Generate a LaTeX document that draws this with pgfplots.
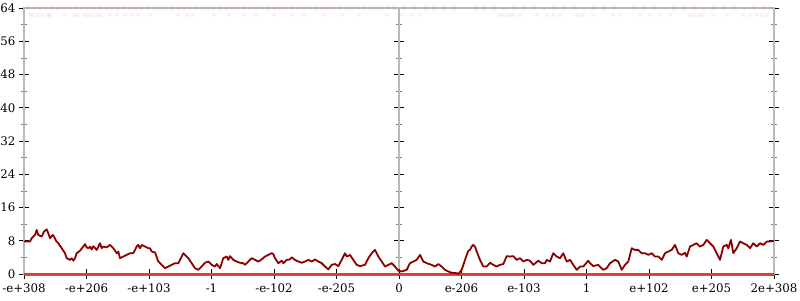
\documentclass[border=0pt]{standalone}
\usepackage{pgfplots}
\pgfplotsset{compat=1.18}
\usepackage{fontspec}
\setmainfont{DejaVu Serif}
\definecolor{dred}{RGB}{140,0,0}
\definecolor{lred}{RGB}{225,40,40}
\definecolor{framec}{RGB}{185,185,185}
\begin{document}
\begin{tikzpicture}
\clip (-24pt,-26pt) rectangle (776pt,274pt);
% middle y axis (x = 0)
\begin{axis}[at={(0,0)},anchor=south west,scale only axis,width=750pt,height=266pt,
  xmin=-375,xmax=375,ymin=0,ymax=64,
  axis x line=none, axis y line=center,
  axis line style={framec,line width=1.2pt,-},
  ytick={0,8,...,64}, minor ytick={4,12,...,60}, yticklabels={},
  tick align=center, major tick length=10pt, minor tick length=6pt,
  major tick style={black,line width=0.8pt}, minor tick style={gray,line width=0.6pt}]
\addplot[draw=none] coordinates {(0,0)};
\end{axis}
\begin{axis}[at={(0,0)},anchor=south west,scale only axis,width=750pt,height=266pt,
  xmin=0,xmax=750,ymin=0,ymax=64,
  axis line style={framec,line width=1.5pt},
  xtick={0,62.5,...,750},
  xticklabels={-e+308,-e+206,-e+103,-1,-e-102,-e-205,0,e-206,e-103,1,e+102,e+205,2e+308},
  ytick={0,8,...,64}, minor ytick={4,12,...,60},
  xtick pos=bottom, ytick pos=both, yticklabel pos=left,
  tick align=center, major tick length=10pt, minor tick length=6pt,
  major tick style={black,line width=0.8pt}, minor tick style={gray,line width=0.6pt},
  /pgf/number format/assume math mode=true,
  tick label style={font=\fontsize{11.8}{13}\selectfont},
  xticklabel style={yshift=-1pt},
  clip=false]
% faint dots at top
\addplot[only marks, mark=*, mark size=2.2pt, color=red, opacity=0.06, draw opacity=0] coordinates {
(6,62.3)(9,62.3)(14,62.3)(18,62.3)(24,62.3)(26,62.3)(41,62.3)(51,62.3)(54,62.3)(61,62.3)(64,62.3)(68,62.3)(73,62.3)(76,62.3)(86,62.3)(93,62.3)(101,62.3)(108,62.3)(114,62.3)(126,62.3)(154,62.3)(163,62.3)(169,62.3)
(190,62.3)(205,62.3)(220,62.3)(232,62.3)(250,62.3)(268,62.3)(280,62.3)(300,62.3)(318,62.3)(335,62.3)(363,62.3)(378,62.3)(388,62.3)(396,62.3)
(476,62.3)(480,62.3)(485,62.3)(489,62.3)(496,62.3)(513,62.3)(523,62.3)(529,62.3)(536,62.3)(553,62.3)(559,62.3)(569,62.3)(589,62.3)(596,62.3)(616,62.3)(626,62.3)(636,62.3)(646,62.3)(666,62.3)(670,62.3)(675,62.3)(679,62.3)(689,62.3)(703,62.3)(719,62.3)(726,62.3)(733,62.3)(738,62.3)(743,62.3)
};
\addplot[only marks, mark=*, mark size=2.2pt, color=red, opacity=0.06, draw opacity=0] coordinates {
(4,64)(10,64)(16,64)(22,64)(28,64)(34,64)(40,64)(46,64)(52,64)(58,64)(64,64)(70,64)(76,64)(82,64)(88,64)(94,64)(100,64)(106,64)(112,64)(118,64)(124,64)(130,64)(136,64)(142,64)(148,64)(154,64)(160,64)(166,64)(172,64)(178,64)(184,64)(190,64)(196,64)(202,64)(208,64)(214,64)(220,64)(226,64)(232,64)(238,64)(244,64)(250,64)(256,64)(262,64)(268,64)(274,64)(280,64)(286,64)(292,64)(298,64)(304,64)(310,64)(316,64)(322,64)(328,64)(334,64)(340,64)(346,64)(352,64)(358,64)(364,64)(370,64)
(380,64)(390,64)(402,64)(410,64)(420,64)(430,64)(440,64)(452,64)(460,64)(470,64)(480,64)(490,64)(500,64)(510,64)(520,64)(530,64)(540,64)(550,64)(560,64)(570,64)(580,64)(590,64)(600,64)(610,64)(620,64)(630,64)(640,64)(650,64)(660,64)(670,64)(680,64)(690,64)(700,64)(710,64)(720,64)(730,64)(740,64)(746,64)
};
% zero series
\addplot[lred, opacity=0.85, line width=3pt] coordinates {(0,0)(750,0)};
% main series
\addplot[dred, line width=1.8pt, line join=round] coordinates {
(0,7.8)(6.0,7.8)(7.7,8.6)(11,9.4)(12.7,10.6)(14.3,9.4)(17.7,9.0)(20,10.2)(22.7,10.75)(24.3,9.8)(26,8.6)(28.7,9.4)(30,9.0)(32,8.0)(34.3,7.4)(37.7,6.2)(41,5.0)(42.7,3.8)(46,3.4)(47.7,3.8)(49.3,3.2)(51,3.8)(52.7,5.0)(56,5.6)(59.3,6.6)(61,7.2)(62.7,6.4)(64.3,6.2)(66,6.6)(67.7,5.9)(69.3,6.7)(72.7,5.8)(76,7.4)(77.7,6.2)(79.3,6.6)(82.7,6.4)(86,7.0)(89.3,6.2)(92.7,5.0)(94.3,5.4)(96,3.8)(99.3,4.2)(102.7,4.6)(106,5.0)(109.3,5.0)(111,5.8)(112.7,6.6)(114.3,7.0)(116,6.2)(117.7,7.0)(121,6.6)(124.3,6.2)(126,6.2)
(127.7,5.4)(131,5.2)(134.3,3.0)(137.7,2.2)(141,1.4)(144.3,1.8)(147.7,2.2)(151,2.6)(154.3,2.6)(156,3.4)(157.7,4.2)(159.3,5.0)(162.7,4.2)(164.3,3.8)(167.7,2.6)(171,1.4)(174.3,1.0)(177.7,1.8)(181,2.7)(184.3,3.0)(187.7,2.2)(191,1.8)(192.7,2.4)(196,1.4)(199.3,3.8)(202.7,4.2)(204.3,3.4)(206,4.3)(209.3,3.4)(212.7,3.0)(216,2.7)(219.3,2.6)(221,2.2)(224.3,3.0)(227.7,3.8)(231,3.4)(234.3,3.0)(237.7,3.5)(241,4.2)(244.3,4.6)(247.7,5.0)(249.3,4.8)
(251,3.8)(254.3,2.6)(257.7,3.2)(259.3,2.6)(262.7,3.4)(266,3.5)(267.7,4.0)(271,3.4)(274.3,3.0)(277.7,2.7)(281,3.0)(284.3,3.4)(287.7,3.0)(291,3.5)(294.3,3.0)(297.7,2.6)(301,1.8)(304.3,1.1)(307.7,2.2)(311,2.4)(314.3,1.9)(317.7,3.4)(321,5.0)(322.7,4.2)(326,4.6)(329.3,3.4)(332.7,2.2)(336,1.9)(341,2.2)(344.3,3.8)(347.7,5.0)(351,5.8)(352.7,5.0)(354.3,4.2)(357.7,3.0)(361,1.8)(364.3,2.2)(367.7,2.6)(371,1.8)(374.3,0.8)
(377.7,0.6)(382.7,1.0)(386,2.6)(389.3,3.0)(392.7,3.4)(396,4.6)(399.3,3.0)(402.7,2.6)(407.7,2.2)(411,1.8)(414.3,2.4)(417.7,1.8)(421,1.0)(424.3,0.6)(427.7,0.3)(432.7,0.2)(434.3,0.0)(437.7,1.0)(441,3.4)(444.3,5.6)(446,5.8)(447.7,6.6)(449.3,7.0)(451,6.6)(452.7,5.4)(456,3.4)(459.3,1.8)(462.7,1.8)(466,2.7)(469.3,2.2)(472.7,1.8)(476,2.2)(479.3,2.4)(482.7,4.3)(486,4.2)(489.3,4.3)(492.7,3.4)(496,3.8)(499.3,3.0)
(502.7,3.4)(506,3.2)(509.3,2.2)(514.3,3.2)(517.7,2.6)(521,2.6)(522.7,3.4)(526,3.0)(529.3,5.0)(532.7,4.2)(536,3.8)(539.3,5.0)(542.7,3.0)(546,3.4)(549.3,2.2)(552.7,1.0)(556,1.8)(559.3,1.8)(564.3,3.2)(566,2.6)(569.3,1.9)(574.3,2.2)(579.3,1.0)(582.7,1.4)(586,2.6)(591,3.4)(594.3,3.0)(597.7,1.0)(601,2.2)(604.3,3.0)(607.7,6.2)(611,5.8)(614.3,5.8)(617.7,5.0)(621,5.0)(624.3,4.6)
(627.7,5.0)(631,4.2)(634.3,4.2)(637.7,3.4)(641,5.0)(644.3,5.4)(647.7,5.8)(651,7.0)(654.3,5.0)(657.7,4.6)(661,5.1)(662.7,4.2)(666,6.6)(669.3,7.0)(672.7,7.4)(676,6.6)(679.3,7.0)(682.7,8.2)(686,7.4)(689.3,6.6)(692.7,5.0)(696,3.4)(699.3,6.6)(702.7,7.0)(704.3,6.2)(707,8.2)(709.3,5.0)(712.7,6.2)(716,7.8)(719.3,7.4)(722.7,7.0)(726,6.2)(729.3,7.4)(732.7,6.6)(736,7.4)(739.3,7.0)(742.7,7.8)(746,7.8)(750,8.0)
};
\end{axis}
\end{tikzpicture}
\end{document}
